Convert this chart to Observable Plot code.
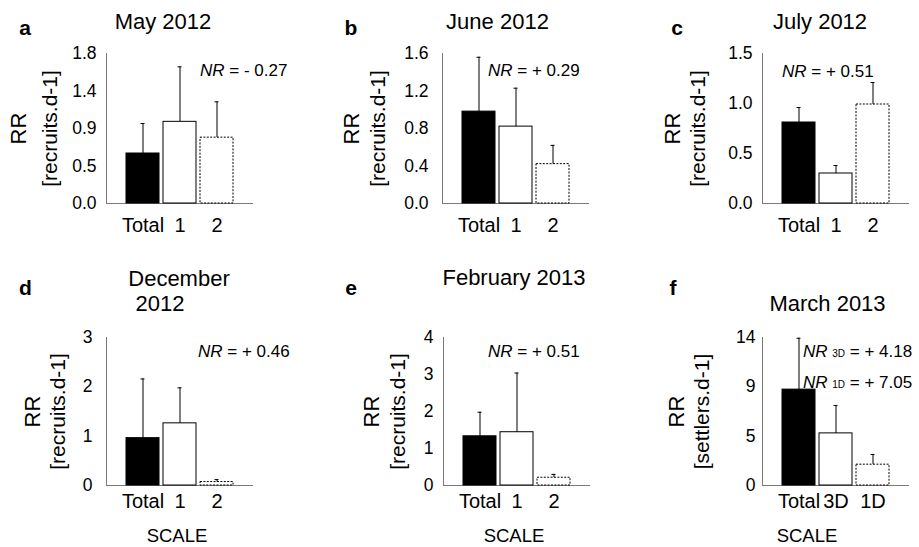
<!DOCTYPE html>
<html><head><meta charset="utf-8">
<script src="https://cdn.jsdelivr.net/npm/d3@7"></script>
<script src="https://cdn.jsdelivr.net/npm/@observablehq/plot@0.6"></script>
<style>
body{margin:0;background:#fff;}
#chart{position:relative;width:919px;height:547px;font-family:"Liberation Sans",Arial,sans-serif;color:#000;overflow:hidden;}
#chart svg{position:absolute;}
.lbl{position:absolute;line-height:1;white-space:nowrap;}
</style></head><body><div id="chart"></div>
<script>
// ---------- data ----------
const panelLetters = ["a", "b", "c", "d", "e", "f"];
const titles = [["May 2012"], ["June 2012"], ["July 2012"], ["December", "2012"], ["February 2013"], ["March 2013"]];
const scaleCategories = [
  ["Total", "1", "2"], ["Total", "1", "2"], ["Total", "1", "2"],
  ["Total", "1", "2"], ["Total", "1", "2"], ["Total", "3D", "1D"]
];
const meanRR = [
  [0.60, 0.98, 0.79],
  [0.98, 0.82, 0.42],
  [0.81, 0.30, 0.99],
  [0.96, 1.26, 0.07],
  [1.33, 1.44, 0.21],
  [9.07, 4.93, 1.97]
];
const upperRR = [
  [0.96, 1.64, 1.22],
  [1.56, 1.23, 0.62],
  [0.96, 0.38, 1.21],
  [2.16, 1.98, 0.12],
  [1.98, 3.04, 0.30],
  [13.93, 7.57, 2.93]
];
const yMax = [1.8, 1.6, 1.5, 3, 4, 14];
const yTickLabels = [
  ["0.0", "0.5", "0.9", "1.4", "1.8"],
  ["0.0", "0.4", "0.8", "1.2", "1.6"],
  ["0.0", "0.5", "1.0", "1.5"],
  ["0", "1", "2", "3"],
  ["0", "1", "2", "3", "4"],
  ["0", "5", "9", "14"]
];
const yLabelMain = "RR";
const yUnits = ["[recruits.d-1]", "[recruits.d-1]", "[recruits.d-1]", "[recruits.d-1]", "[recruits.d-1]", "[settlers.d-1]"];
const nrSubscripts = [[""], [""], [""], [""], [""], ["3D", "1D"]];
const nrValues = [["- 0.27"], ["+ 0.29"], ["+ 0.51"], ["+ 0.46"], ["+ 0.51"], ["+ 4.18", "+ 7.05"]];
const xAxisTitle = "SCALE";
const showXAxisTitle = [false, false, false, true, true, true];

// ---------- layout ----------
const FONT = '"Liberation Sans", Arial, sans-serif';
const layout = [
  {left: 0,   top: 0,   h: 250, ml: 106, mt: 53, mb: 47, rrDx: -88, unitDx: -56, yPad: 10, xPad: 14.5,
   letter: [25, 35], title: [[163, 30]], nr: [[200, 76.5]], scale: null},
  {left: 300, top: 0,   h: 250, ml: 142, mt: 53, mb: 47, rrDx: -91, unitDx: -64, yPad: 14, xPad: 14.5,
   letter: [351, 35], title: [[497.5, 30]], nr: [[488, 76.5]], scale: null},
  {left: 600, top: 0,   h: 250, ml: 162, mt: 53, mb: 47, rrDx: -90, unitDx: -64, yPad: 10, xPad: 14.5,
   letter: [677, 35], title: [[820, 30]], nr: [[782, 77]], scale: null},
  {left: 0,   top: 270, h: 277, ml: 106, mt: 67, mb: 62, rrDx: -74, unitDx: -48, yPad: 14, xPad: 8,
   letter: [25.5, 295], title: [[179, 287], [160, 311.7]], nr: [[198, 357.3]], scale: [177, 543]},
  {left: 300, top: 270, h: 277, ml: 143, mt: 67, mb: 62, rrDx: -72, unitDx: -45, yPad: 10, xPad: 8,
   letter: [351, 295], title: [[514, 286]], nr: [[488, 357.3]], scale: [514, 543]},
  {left: 600, top: 270, h: 277, ml: 162, mt: 67, mb: 62, rrDx: -86, unitDx: -60, yPad: 7, xPad: 8,
   letter: [673, 295], title: [[827.5, 311.7]], nr: [[803, 357.3], [803, 388.3]], scale: [807, 543]}
];
const PW = 310, FW = 146;

const chart = document.getElementById("chart");

function place(html, x, baseline, fs, anchor, extra) {
  const d = document.createElement("div");
  d.className = "lbl";
  d.style.fontSize = fs + "px";
  d.style.left = x + "px";
  d.style.top = (baseline - 0.8465 * fs) + "px";
  if (anchor === "middle") d.style.transform = "translateX(-50%)";
  if (extra) Object.assign(d.style, extra);
  d.innerHTML = html;
  chart.appendChild(d);
}

layout.forEach((L, i) => {
  const data = scaleCategories[i].map((c, j) => ({scale: c, mean: meanRR[i][j], upper: upperRR[i][j], k: j}));
  const n = yTickLabels[i].length;
  const ticks = yTickLabels[i].map((_, k) => k * yMax[i] / (n - 1));
  const svg = Plot.plot({
    width: PW, height: L.h,
    marginLeft: L.ml, marginRight: PW - L.ml - FW, marginTop: L.mt, marginBottom: L.mb,
    style: {fontFamily: FONT, fontSize: "18px", color: "#000", background: "transparent", overflow: "visible"},
    x: {domain: scaleCategories[i], paddingInner: 0.12, paddingOuter: 0.5},
    y: {domain: [0, yMax[i]]},
    marks: [
      Plot.axisY({ticks, tickFormat: (d) => yTickLabels[i][ticks.indexOf(d)], tickSize: 0, tickPadding: L.yPad, label: null, fontSize: 17.5}),
      Plot.axisX({tickSize: 0, tickPadding: L.xPad, label: null, fontSize: 20}),
      Plot.frame({anchor: "left", stroke: "#7a7a7a"}),
      Plot.frame({anchor: "bottom", stroke: "#7a7a7a"}),
      Plot.barY(data.filter(d => d.k === 0), {x: "scale", y: "mean", fill: "black", stroke: "black"}),
      Plot.barY(data.filter(d => d.k === 1), {x: "scale", y: "mean", fill: "white", stroke: "black"}),
      Plot.barY(data.filter(d => d.k === 2), {x: "scale", y: "mean", fill: "white", stroke: "black", strokeDasharray: "2,1.4"}),
      Plot.ruleX(data, {x: "scale", y1: "mean", y2: "upper", stroke: "black"}),
      Plot.tickY(data, {x: "scale", y: "upper", stroke: "black", insetLeft: 14.5, insetRight: 14.5}),
      Plot.text([yLabelMain], {text: d => d, frameAnchor: "left", textAnchor: "middle", rotate: -90, dx: L.rrDx, fontSize: 22}),
      Plot.text([yUnits[i]], {text: d => d, frameAnchor: "left", textAnchor: "middle", rotate: -90, dx: L.unitDx, fontSize: 21})
    ]
  });
  svg.style.left = L.left + "px";
  svg.style.top = L.top + "px";
  chart.appendChild(svg);

  place(panelLetters[i], L.letter[0], L.letter[1], 21, "middle", {fontWeight: "bold"});
  titles[i].forEach((t, k) => place(t, L.title[k][0], L.title[k][1], 22, "middle"));
  nrValues[i].forEach((v, k) => {
    const sub = nrSubscripts[i][k];
    const html = "<i>NR</i>" + (sub ? ' <span style="font-size:10px">' + sub + "</span>" : "") + " = " + v;
    place(html, L.nr[k][0], L.nr[k][1], 17, "start");
  });
  if (showXAxisTitle[i]) place(xAxisTitle, L.scale[0], L.scale[1], 18.5, "middle");
});
</script>
</body></html>
